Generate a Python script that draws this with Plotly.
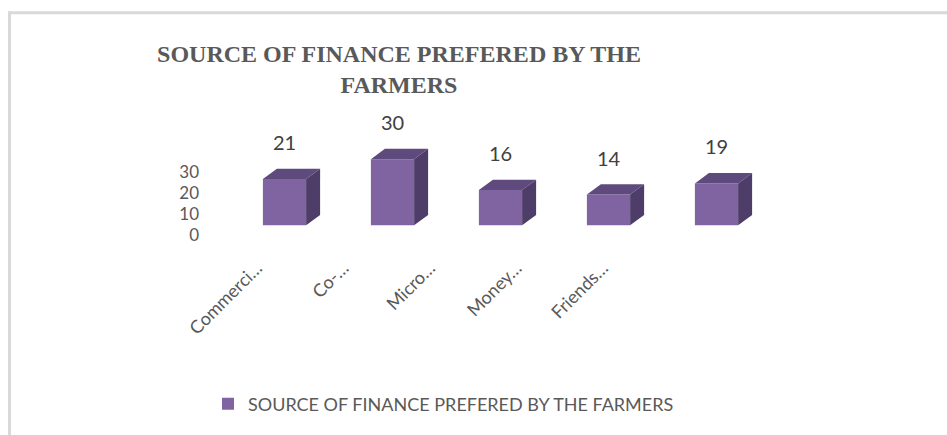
import plotly.graph_objects as go

categories = ["Commercial Banks", "Co-operative Banks", "Micro Finance", "Money Lenders", "Friends & Relatives"]
tick_labels = ["Commerci…", "Co-…", "Micro…", "Money…", "Friends…"]
values = [21, 30, 16, 14, 19]
y_ticks = [0, 10, 20, 30]
series_name = "SOURCE OF FINANCE PREFERED BY THE FARMERS"
title_text = "SOURCE OF FINANCE PREFERED BY THE<br>FARMERS"

FRONT = "#8064A2"
TOP = "#5F4A7E"
SIDE = "#4E3D69"

W, H = 947, 435
L, R, T, B = 200, 177, 100, 180
plot_w = W - L - R
plot_h = H - T - B

# primary axes (bars)
px_per_x = 108.0
x_lo = -84.5 / px_per_x
x_hi = x_lo + plot_w / px_per_x
px_per_y = 2.233
zero_px = 227
y_lo = -(T + plot_h - zero_px) / px_per_y
y_hi = (zero_px - T) / px_per_y

# secondary axes (tick labels, as drawn in the 3D-perspective original)
px_per_x2 = 86.5
x2_lo = -(257 - L) / px_per_x2
x2_hi = x2_lo + plot_w / px_per_x2
px_per_y2 = 2.133
zero2_px = 237
y2_lo = -(T + plot_h - zero2_px) / px_per_y2
y2_hi = (zero2_px - T) / px_per_y2

bar_w = 0.40
dx = 14 / px_per_x
dy = 10.5 / px_per_y

idx = list(range(len(categories)))

fig = go.Figure()
fig.add_trace(go.Bar(
    x=idx, y=values, width=bar_w, name=series_name,
    marker=dict(color=FRONT, line=dict(width=0)),
    hovertext=categories, showlegend=True,
))
fig.add_trace(go.Scatter(
    x=idx, y=values, xaxis="x2", yaxis="y2", mode="markers",
    marker=dict(opacity=0), showlegend=False, hoverinfo="skip",
))

shapes = []
for i, v in zip(idx, values):
    xl, xr = i - bar_w / 2, i + bar_w / 2
    shapes.append(dict(
        type="path", xref="x", yref="y", layer="above",
        path=f"M {xl},{v} L {xl+dx},{v+dy} L {xr+dx},{v+dy} L {xr},{v} Z",
        fillcolor=TOP, line=dict(width=0)))
    shapes.append(dict(
        type="path", xref="x", yref="y", layer="above",
        path=f"M {xr},0 L {xr+dx},{dy} L {xr+dx},{v+dy} L {xr},{v} Z",
        fillcolor=SIDE, line=dict(width=0)))

# chart frame (top and left edges visible in the original)
def px_to_paper_x(p):
    return (p - L) / plot_w

def px_to_paper_y(p):
    return (T + plot_h - p) / plot_h

shapes.append(dict(type="line", xref="paper", yref="paper",
                   x0=px_to_paper_x(8), x1=px_to_paper_x(W + 5),
                   y0=px_to_paper_y(11.5), y1=px_to_paper_y(11.5),
                   line=dict(color="#D9D9D9", width=3)))
shapes.append(dict(type="line", xref="paper", yref="paper",
                   x0=px_to_paper_x(9.5), x1=px_to_paper_x(9.5),
                   y0=px_to_paper_y(10), y1=px_to_paper_y(H + 5),
                   line=dict(color="#D9D9D9", width=3)))

annotations = []
for i, v in zip(idx, values):
    annotations.append(dict(
        x=i, y=v, xref="x", yref="y", text=str(v), showarrow=False,
        yshift=37, font=dict(family="Lato", size=20, color="#404040")))

fig.update_layout(
    width=W, height=H,
    margin=dict(l=L, r=R, t=T, b=B),
    paper_bgcolor="white", plot_bgcolor="white",
    title=dict(text=title_text, x=px_to_paper_x(399), xref="paper", xanchor="center",
               y=1 - 62 / H, yanchor="bottom", yref="container",
               font=dict(family="Liberation Serif", size=24, color="#595959", weight="bold")),
    xaxis=dict(range=[x_lo, x_hi], showticklabels=False, showgrid=False,
               zeroline=False, showline=False, ticks=""),
    yaxis=dict(range=[y_lo, y_hi], showticklabels=False, showgrid=False,
               zeroline=False, showline=False, ticks=""),
    xaxis2=dict(range=[x2_lo, x2_hi], overlaying="x", side="bottom",
                tickmode="array", tickvals=idx, ticktext=tick_labels,
                tickangle=-45, showgrid=False, zeroline=False, showline=False,
                ticks="", tickfont=dict(family="Lato", size=18, color="#595959")),
    yaxis2=dict(range=[y2_lo, y2_hi], overlaying="y", side="left",
                tickmode="array", tickvals=y_ticks,
                showgrid=False, zeroline=False, showline=False, ticks="",
                tickfont=dict(family="Lato", size=17, color="#595959")),
    legend=dict(orientation="h", x=px_to_paper_x(208), xanchor="left",
                y=px_to_paper_y(408), yanchor="middle",
                font=dict(family="Lato", size=18, color="#595959")),
    shapes=shapes,
    annotations=annotations,
    showlegend=True,
)

fig.write_html("out.html")
